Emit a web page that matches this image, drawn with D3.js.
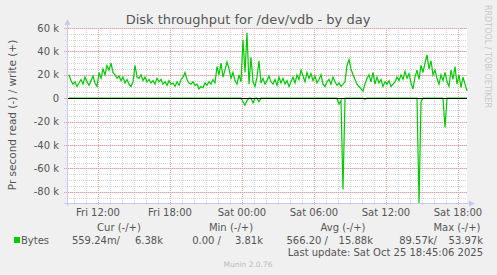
<!DOCTYPE html>
<html>
<head>
<meta charset="utf-8">
<script src="https://cdnjs.cloudflare.com/ajax/libs/d3/7.8.5/d3.min.js"></script>
<style>
  body { margin: 0; background: #f0f0f0; }
  svg { display: block; font-family: "DejaVu Sans", sans-serif; }
</style>
</head>
<body>
<div id="chart"></div>
<script>
  // write bytes per second (k), one value per 10 minutes
  var writeK = [
    20, 15, 12, 14, 10, 13, 16, 12, 18, 14,
    11, 15, 19, 13, 10, 22, 17, 25, 20, 28,
    24, 30, 22, 20, 17, 19, 15, 18, 13, 16,
    12, 10, 14, 28, 18, 17, 20, 15, 18, 14,
    16, 13, 15, 12, 17, 14, 16, 12, 14, 11,
    15, 12, 13, 10, 14, 11, 16, 18, 22, 16,
    13, 12, 14, 11, 12, 8, 10, 9, 13, 11,
    14, 12, 16, 13, 27, 20, 30, 18, 24, 31,
    25, 17, 22, 15, 12, 20, 14, 50, 22, 56,
    12, 35, 14, 10, 18, 32, 13, 17, 12, 15,
    19, 14, 12, 16, 11, 18, 13, 17, 12, 15,
    10, 14, 18, 13, 20, 16, 24, 19, 14, 22,
    17, 21, 15, 19, 13, 16, 20, 12, 10, 14,
    16, 12, 18, 14, 11, 13, 10, 12, 14, 28,
    33, 25, 20, 16, 12, 10, 8, 6, 12, 17,
    20, 14, 22, 12, 18, 13, 16, 10, 14, 12,
    15, 10, 12, 14, 18, 15, 20, 16, 23, 17,
    21, 13, 8, 18, 24, 16, 28, 22, 30, 37,
    25, 32, 20, 24, 17, 12, 20, 15, 22, 14,
    10, 24, 16, 27, 12, 20, 9, 18, 12, 6.38
  ];
  // read bytes per second (k), mostly idle
  var readK = d3.range(200).map(function () { return 0; });
  var readSpikes = [[87, 3], [88, 6], [89, 2], [92, 4], [95, 3],
    [135, 5], [136, 2], [137, 78], [148, 1], [175, 89.57], [176, 3], [188, 25]];
  readSpikes.forEach(function (s) { readK[s[0]] = s[1]; });

  var yTicks = [60, 40, 20, 0, -20, -40, -60, -80];
  var xTickLabels = ['Fri 12:00', 'Fri 18:00', 'Sat 00:00', 'Sat 06:00', 'Sat 12:00', 'Sat 18:00'];
  var legendHead = ['Cur (-/+)', 'Min (-/+)', 'Avg (-/+)', 'Max (-/+)'];
  var legendVals = ['559.24m/', '6.38k', '0.00 /', '3.81k', '566.20 /', '15.88k', '89.57k/', '53.97k'];

  (function () {
    var w = 497, h = 275;
    var pl = 67, pr = 467, pt = 28, pb = 203;
    var green = '#00cc00';
    var endTime = new Date(Date.UTC(2025, 9, 25, 18, 45, 6));
    var startTime = new Date(endTime.getTime() - 400 * 5 * 60000);
    var step = 10 * 60000;

    var x = d3.scaleUtc().domain([startTime, endTime]).range([pl, pr]);
    var y = d3.scaleLinear().domain([-89.57, 60]).range([pb, pt]);

    var svg = d3.select('#chart').append('svg')
      .attr('width', w).attr('height', h);

    svg.append('rect').attr('x', pl).attr('y', pt)
      .attr('width', pr - pl).attr('height', pb - pt)
      .attr('fill', '#ffffff');

    var grid = svg.append('g').attr('shape-rendering', 'crispEdges');
    // minor grid
    var hours = d3.utcHour.range(startTime, endTime);
    grid.selectAll('line.vmin').data(hours).enter().append('line')
      .attr('x1', function (d) { return Math.round(x(d)) + 0.5; })
      .attr('x2', function (d) { return Math.round(x(d)) + 0.5; })
      .attr('y1', pt).attr('y2', pb + 2)
      .attr('stroke', '#d4d4d4').attr('stroke-dasharray', '1,1');
    var fives = d3.range(-85, 61, 5);
    grid.selectAll('line.hmin').data(fives).enter().append('line')
      .attr('x1', pl - 2).attr('x2', pr)
      .attr('y1', function (d) { return Math.round(y(d)) + 0.5; })
      .attr('y2', function (d) { return Math.round(y(d)) + 0.5; })
      .attr('stroke', '#d4d4d4').attr('stroke-dasharray', '1,1');
    // major grid
    var sixes = d3.utcHour.every(6).range(startTime, endTime);
    grid.selectAll('line.vmaj').data(sixes).enter().append('line')
      .attr('x1', function (d) { return Math.round(x(d)) + 0.5; })
      .attr('x2', function (d) { return Math.round(x(d)) + 0.5; })
      .attr('y1', pt).attr('y2', pb + 3)
      .attr('stroke', '#f0a0a0').attr('stroke-dasharray', '1,1');
    grid.selectAll('line.hmaj').data(yTicks).enter().append('line')
      .attr('x1', pl - 3).attr('x2', pr)
      .attr('y1', function (d) { return Math.round(y(d)) + 0.5; })
      .attr('y2', function (d) { return Math.round(y(d)) + 0.5; })
      .attr('stroke', '#f0a0a0').attr('stroke-dasharray', '1,1');

    // y labels
    svg.selectAll('text.ylab').data(yTicks).enter().append('text')
      .attr('x', 59).attr('y', function (d) { return y(d) + 3.5; })
      .attr('text-anchor', 'end').attr('font-size', '10px').attr('fill', '#555')
      .text(function (d) { return d === 0 ? '0' : d + ' k'; });

    // x labels
    svg.selectAll('text.xlab').data(sixes).enter().append('text')
      .attr('x', function (d) { return x(d); }).attr('y', 216)
      .attr('text-anchor', 'middle').attr('font-size', '10px').attr('fill', '#555')
      .text(function (d, i) { return xTickLabels[i]; });

    // series
    var times = writeK.map(function (d, i) { return new Date(startTime.getTime() + (i + 1) * step); });
    var line = d3.line()
      .x(function (d, i) { return x(times[i]); })
      .y(function (d) { return y(d); });
    svg.append('path').datum(readK.map(function (d) { return -d; }))
      .attr('d', line).attr('fill', 'none').attr('stroke', green).attr('stroke-width', 1.2);
    svg.append('path').datum(writeK)
      .attr('d', line).attr('fill', 'none').attr('stroke', green).attr('stroke-width', 1.2);

    // zero rule
    svg.append('line').attr('x1', pl).attr('x2', pr)
      .attr('y1', Math.round(y(0)) + 0.5).attr('y2', Math.round(y(0)) + 0.5)
      .attr('stroke', '#000').attr('shape-rendering', 'crispEdges');

    // axes with arrows
    var axisCol = '#c8c8f0';
    svg.append('line').attr('x1', pl + 0.5).attr('x2', pl + 0.5)
      .attr('y1', pb + 3).attr('y2', pt - 5)
      .attr('stroke', axisCol).attr('shape-rendering', 'crispEdges');
    svg.append('path').attr('d', 'M' + (pl - 2.5) + ',' + (pt - 3) + 'L' + (pl + 0.5) + ',' + (pt - 9) + 'L' + (pl + 3.5) + ',' + (pt - 3) + 'Z')
      .attr('fill', axisCol);
    svg.append('line').attr('x1', pl - 3).attr('x2', pr + 3)
      .attr('y1', pb + 0.5).attr('y2', pb + 0.5)
      .attr('stroke', axisCol).attr('shape-rendering', 'crispEdges');
    svg.append('path').attr('d', 'M' + (pr + 2) + ',' + (pb - 2.5) + 'L' + (pr + 8) + ',' + (pb + 0.5) + 'L' + (pr + 2) + ',' + (pb + 3.5) + 'Z')
      .attr('fill', axisCol);

    // title
    svg.append('text').attr('x', 248).attr('y', 24)
      .attr('text-anchor', 'middle').attr('font-size', '13px').attr('fill', '#555')
      .text('Disk throughput for /dev/vdb - by day');

    // y axis title
    svg.append('text')
      .attr('transform', 'translate(16,115) rotate(-90)')
      .attr('text-anchor', 'middle').attr('font-size', '10.5px').attr('fill', '#555')
      .text('Pr second read (-) / write (+)');

    // side watermark
    svg.append('text')
      .attr('transform', 'translate(485,5) rotate(90)')
      .attr('font-size', '8px').attr('fill', '#c8c8c8')
      .text('RRDTOOL / TOBI OETIKER');

    // legend
    var headX = [119, 231, 343, 457];
    svg.selectAll('text.lhead').data(legendHead).enter().append('text')
      .attr('x', function (d, i) { return headX[i]; }).attr('y', 231)
      .attr('text-anchor', 'middle').attr('font-size', '10px').attr('fill', '#555')
      .text(function (d) { return d; });
    var valX = [120, 163, 221, 263, 328, 373, 437, 483];
    svg.selectAll('text.lval').data(legendVals).enter().append('text')
      .attr('x', function (d, i) { return valX[i]; }).attr('y', 244)
      .attr('text-anchor', 'end').attr('font-size', '10px').attr('fill', '#555')
      .text(function (d) { return d; });
    svg.append('rect').attr('x', 14).attr('y', 237).attr('width', 6).attr('height', 6)
      .attr('fill', green);
    svg.append('text').attr('x', 21).attr('y', 244)
      .attr('font-size', '10px').attr('fill', '#555').text('Bytes');
    svg.append('text').attr('x', 483).attr('y', 256)
      .attr('text-anchor', 'end').attr('font-size', '10px').attr('fill', '#555')
      .text('Last update: Sat Oct 25 18:45:06 2025');
    svg.append('text').attr('x', 248).attr('y', 267)
      .attr('text-anchor', 'middle').attr('font-size', '7.5px').attr('fill', '#bbb')
      .text('Munin 2.0.76');
  })();
</script>
</body>
</html>
